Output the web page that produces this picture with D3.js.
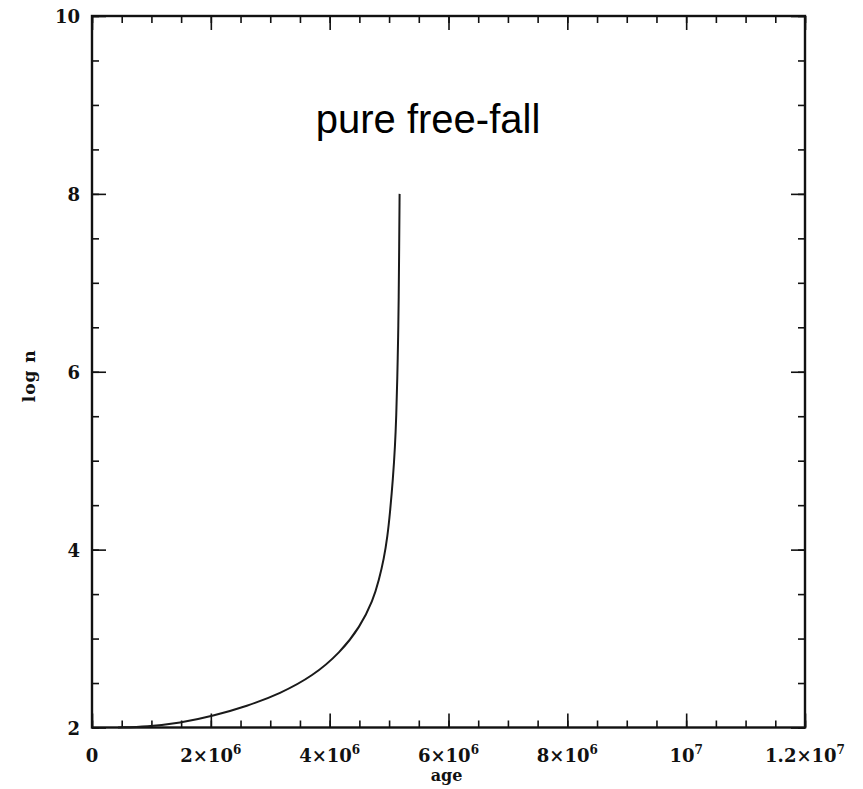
<!DOCTYPE html>
<html>
<head>
<meta charset="utf-8">
<script src="https://cdn.jsdelivr.net/npm/d3@7"></script>
<style>
  body { margin: 0; background: #fff; }
  svg { display: block; }
  .tick-label { font-family: "DejaVu Serif", serif; font-weight: bold; font-size: 18px; fill: #111; }
  .axis-title { font-family: "DejaVu Serif", serif; font-weight: bold; fill: #111; }
  .title { font-family: "Liberation Sans", Arial, sans-serif; font-size: 40px; fill: #000; }
</style>
</head>
<body>
<script>
// collapse track: age in years vs log density
const age  = [0.438e6, 0.926e6, 1.481e6, 2.036e6, 2.609e6, 3.164e6, 3.720e6, 4.174e6,
              4.511e6, 4.730e6, 4.830e6, 4.914e6, 4.973e6, 5.015e6, 5.066e6, 5.100e6,
              5.121e6, 5.138e6, 5.153e6, 5.162e6, 5.170e6, 5.177e6];
const logN = [2.00, 2.01, 2.05, 2.13, 2.24, 2.38, 2.58, 2.84,
              3.13, 3.43, 3.66, 3.90, 4.15, 4.41, 4.80, 5.16,
              5.50, 5.91, 6.40, 6.81, 7.40, 8.00];

const ageTicks = [0, 2e6, 4e6, 6e6, 8e6, 1e7, 1.2e7];
const ageTickLabels = ["0", "2×10^6", "4×10^6", "6×10^6", "8×10^6", "10^7", "1.2×10^7"];
const logTicks = [2, 4, 6, 8, 10];
const logTickLabels = ["2", "4", "6", "8", "10"];

const titleText = "pure free-fall";

init();

function init() {
  let width = 863,
      height = 789,
      frame = {l: 92, r: 805, t: 16, b: 727.5};

  let svg = d3.select("body")
              .append("svg")
              .attr("width", width)
              .attr("height", height);

  let x = d3.scaleLinear().domain([0, 1.2e7]).range([frame.l, frame.r]);
  let y = d3.scaleLinear().domain([2, 10]).range([frame.b, frame.t]);

  let ageMinor = d3.range(0, 1.2e7 + 1, 5e5);
  let logMinor = d3.range(2, 10.01, 0.5);

  // ticks on all four sides, pointing inward
  function ticks(axis, values, size) {
    return axis.tickValues(values).tickSize(size).tickFormat("");
  }
  let sides = [
    {ax: d3.axisBottom(x), tr: `translate(0,${frame.b})`, minor: ageMinor, major: ageTicks},
    {ax: d3.axisTop(x),    tr: `translate(0,${frame.t})`, minor: ageMinor, major: ageTicks},
    {ax: d3.axisLeft(y),   tr: `translate(${frame.l},0)`, minor: logMinor, major: logTicks},
    {ax: d3.axisRight(y),  tr: `translate(${frame.r},0)`, minor: logMinor, major: logTicks}
  ];
  sides.forEach(s => {
    [[s.minor, -7], [s.major, -14]].forEach(([vals, len]) => {
      let g = svg.append("g").attr("transform", s.tr)
                 .call(ticks(s.ax, vals, len));
      g.select(".domain").remove();
      g.selectAll("line").attr("stroke", "#111").attr("stroke-width", 1.6);
    });
  });

  // frame
  svg.append("rect")
     .attr("x", frame.l).attr("y", frame.t)
     .attr("width", frame.r - frame.l).attr("height", frame.b - frame.t)
     .attr("fill", "none").attr("stroke", "#111").attr("stroke-width", 2.4);

  // x tick labels with superscript exponents
  ageTicks.forEach((v, i) => {
    let parts = ageTickLabels[i].split("^");
    let t = svg.append("text")
               .attr("class", "tick-label")
               .attr("x", x(v))
               .attr("y", frame.b + 34)
               .attr("text-anchor", "middle");
    t.append("tspan").text(parts[0]);
    if (parts[1]) {
      t.append("tspan").attr("dy", -8).style("font-size", "12px").text(parts[1]);
    }
  });

  logTicks.forEach((v, i) => {
    svg.append("text")
       .attr("class", "tick-label")
       .attr("x", frame.l - 12)
       .attr("y", y(v) + 7)
       .attr("text-anchor", "end")
       .text(logTickLabels[i]);
  });

  svg.append("text")
     .attr("class", "axis-title")
     .attr("x", (frame.l + frame.r) / 2 - 2)
     .attr("y", 781)
     .attr("text-anchor", "middle")
     .style("font-size", "16px")
     .text("age");

  svg.append("text")
     .attr("class", "axis-title")
     .attr("transform", `translate(35,${(frame.t + frame.b) / 2 + 4}) rotate(-90)`)
     .attr("text-anchor", "middle")
     .style("font-size", "17px")
     .style("letter-spacing", "1px")
     .text("log n");

  // the curve
  let line = d3.line()
               .x((d, i) => x(age[i]))
               .y(d => y(d))
               .curve(d3.curveBasis);

  svg.append("path")
     .datum(logN)
     .attr("d", line)
     .attr("fill", "none")
     .attr("stroke", "#1a1a1a")
     .attr("stroke-width", 2);

  svg.append("text")
     .attr("class", "title")
     .attr("x", 428)
     .attr("y", 133)
     .attr("text-anchor", "middle")
     .text(titleText);
}
</script>
</body>
</html>
